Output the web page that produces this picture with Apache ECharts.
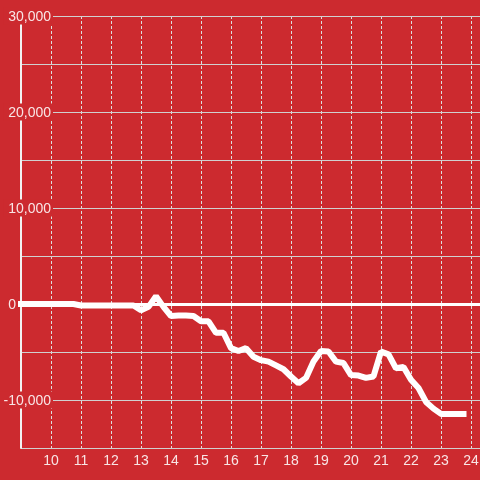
<!DOCTYPE html>
<html>
<head>
<meta charset="utf-8">
<script src="https://cdn.jsdelivr.net/npm/echarts@6/dist/echarts.min.js"></script>
<style>
html,body{margin:0;padding:0;background:#cc2a2f;}
#chart{width:480px;height:480px;}
</style>
</head>
<body>
<div id="chart"></div>
<script>
var hours = [9, 9.25, 9.5, 9.75, 10, 10.25, 10.5, 10.75, 11, 11.25, 11.5, 11.75, 12, 12.25, 12.5, 12.75,
  13, 13.25, 13.5, 13.75, 14, 14.25, 14.5, 14.75, 15, 15.25, 15.5, 15.75, 16, 16.25, 16.5, 16.75,
  17, 17.25, 17.5, 17.75, 18, 18.25, 18.5, 18.75, 19, 19.25, 19.5, 19.75, 20, 20.25, 20.5, 20.75,
  21, 21.25, 21.5, 21.75, 22, 22.25, 22.5, 22.75, 23, 23.25, 23.5, 23.75];
var values = [0, 0, 0, 0, 0, 0, 0, 0, -150, -150, -150, -150, -150, -150, -150, -150,
  -650, -300, 800, -300, -1250, -1200, -1200, -1250, -1800, -1800, -3000, -3000, -4600, -4900, -4600, -5500,
  -5850, -6000, -6400, -6800, -7550, -8250, -7700, -6000, -4900, -4950, -6000, -6150, -7400, -7450, -7700, -7550,
  -4950, -5250, -6700, -6550, -7900, -8750, -10200, -10900, -11450, -11450, -11450, -11450];
var xTickLabels = [10, 11, 12, 13, 14, 15, 16, 17, 18, 19, 20, 21, 22, 23, 24];
var yTickLabels = [30000, 20000, 10000, 0, -10000];

var points = hours.map(function (h, i) { return [h, values[i]]; });
var font = 'Liberation Sans, Arial, sans-serif';
var chart = echarts.init(document.getElementById('chart'), null, {renderer: 'canvas'});
chart.setOption({
  backgroundColor: '#cc2a2f',
  animation: false,
  grid: {left: 21, right: 0, top: 16, bottom: 32, containLabel: false, outerBoundsMode: 'none'},
  xAxis: {
    type: 'value', min: 9, max: 24.3, interval: 1,
    z: 0,
    axisLine: {show: true, lineStyle: {color: '#dddddd', width: 2}},
    axisTick: {show: false},
    splitLine: {show: true, lineStyle: {color: '#dddddd', width: 1, type: [3, 2]}},
    axisLabel: {
      color: 'rgba(255,255,255,0.88)', fontSize: 14, fontFamily: font, margin: 6.5,
      formatter: function (v) { return xTickLabels.indexOf(v) >= 0 ? String(v) : ''; }
    }
  },
  yAxis: {
    type: 'value', min: -15000, max: 30000, interval: 5000,
    z: 1,
    axisLine: {show: true, lineStyle: {color: '#f2f2f2', width: 2}},
    axisTick: {show: false},
    splitLine: {show: true, lineStyle: {color: '#d0d0d0', width: 1}},
    axisLabel: {
      inside: true, align: 'right', margin: 32,
      fontSize: 14, fontFamily: font, color: 'rgba(255,255,255,0.88)',
      formatter: function (v) {
        if (yTickLabels.indexOf(v) < 0) return '';
        if (v === 0) return '{z|0}';
        return '{a|' + echarts.format.addCommas(v) + '}';
      },
      rich: {
        a: {fontSize: 14, fontFamily: font, color: 'rgba(255,255,255,0.88)', backgroundColor: '#cc2a2f', padding: [3, 2, 0, 5], lineHeight: 14},
        z: {fontSize: 14, fontFamily: font, color: 'rgba(255,255,255,0.88)', padding: [3, 37, 0, 0], lineHeight: 14}
      }
    }
  },
  series: [{
    type: 'line',
    data: points,
    showSymbol: false,
    z: 3,
    lineStyle: {color: '#ffffff', width: 6, cap: 'square', join: 'bevel'},
    markLine: {
      silent: true, symbol: 'none', animation: false,
      label: {show: false},
      lineStyle: {color: '#ffffff', width: 3, type: 'solid'},
      data: [{yAxis: 0}]
    }
  }]
});
</script>
</body>
</html>
